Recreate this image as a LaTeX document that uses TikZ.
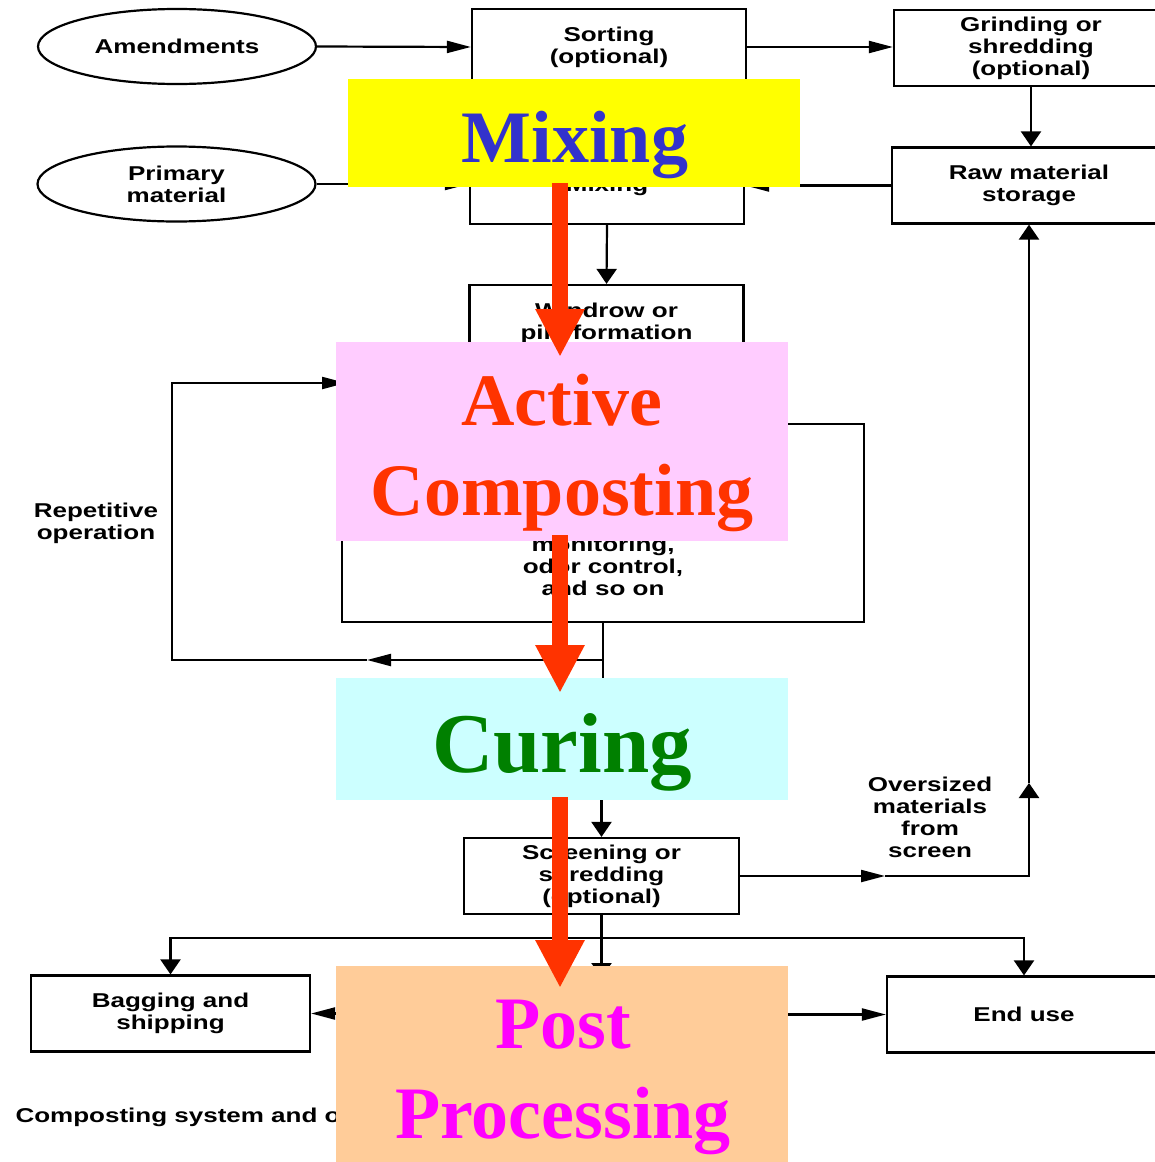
\documentclass[tikz,border=0pt]{standalone}
\usepackage{fontspec}
\usetikzlibrary{shapes.geometric,arrows.meta}
\newfontfamily\scanfont[FakeStretch=1.3]{Liberation Sans}
\newfontfamily\stagefont{Liberation Serif}
\definecolor{mixyellow}{HTML}{FFFF00}
\definecolor{mixblue}{HTML}{3333CC}
\definecolor{actpink}{HTML}{FFCCFF}
\definecolor{actred}{HTML}{FF3300}
\definecolor{curecyan}{HTML}{CCFFFF}
\definecolor{curegreen}{HTML}{008000}
\definecolor{postpeach}{HTML}{FFCC99}
\definecolor{postmagenta}{HTML}{FF00FF}
\begin{document}
\begin{tikzpicture}[x=1pt, y=-1pt,
    scantext/.style={font=\scanfont\bfseries\fontsize{20}{22}\selectfont, align=center},
    procbox/.style={draw, line width=2.2pt, minimum width=274pt, minimum height=76pt, inner sep=0pt, scantext},
    srcell/.style={draw, ellipse, line width=2.2pt, minimum width=278pt, minimum height=75pt, inner sep=0pt, scantext},
    flow/.style={line width=2.2pt},
    harr/.style={flow, -{Triangle[length=24pt, width=12pt]}},
    varr/.style={flow, -{Triangle[length=15pt, width=20pt]}},
    stage/.style={minimum width=452pt, inner sep=0pt},
    stagetext/.style={font=\stagefont\bfseries\fontsize{74}{90}\selectfont, anchor=base, inner sep=0pt},
    bigarrow/.style={actred, line width=16pt, -{Triangle[length=48pt, width=46pt]}}]
    \useasboundingbox (0,0) rectangle (1154,1162);

    % Inputs and raw material handling
    \node[srcell] (amend) at (177,46.5) {Amendments};
    \node[srcell] (primary) at (176.5,184) {Primary\\material};
    \node[procbox] (sorting) at (609,47) {Sorting\\(optional)};
    \node[procbox] (grind) at (1031,48) {Grinding or\\shredding\\(optional)};
    \node[procbox] (raw) at (1029,185.5) {Raw material\\storage};
    \node[procbox] (mixbox) at (607,186) {Mixing};
    \node[procbox] (windrow) at (606.5,323) {Windrow or\\pile formation};

    \draw[harr] (amend.east) -- (sorting.west);
    \draw[harr] (sorting.east) -- (sorting.east -| grind.west);
    \draw[varr] (grind.south) -- (grind.south |- raw.north);
    \draw[harr] (raw.west) -- (raw.west -| mixbox.east);
    \draw[harr] (primary.east) -- (primary.east -| mixbox.west);
    \draw[varr] (mixbox.south) -- (windrow.north);

    % Composting with repetitive operation
    \node[draw, line width=2.2pt, minimum width=522pt, minimum height=198pt] (compbox) at (603,523) {};
    \node[scantext] (comptext) at (603,566) {monitoring,\\odor control,\\and so on};
    \coordinate (lpsplit) at (603,660);
    \coordinate (lpmid) at (367,660);
    \coordinate (lptl) at (172,383);
    \coordinate (lpin) at (346,383);
    \coordinate (curein) at (603,700);
    \draw[flow] (compbox.south) -- (curein);
    \draw[harr] (lpsplit) -- (lpmid);
    \draw[harr] (lpmid) -| (lptl) -- (lpin);
    \node[scantext] (repet) at (96,523) {Repetitive\\operation};

    % Screening and products
    \coordinate (cureout) at (601.5,780);
    \node[procbox, minimum width=275pt] (screen) at (601.5,876) {Screening or\\shredding\\(optional)};
    \draw[varr] (cureout) -- (screen.north);
    \coordinate (ovA) at (885,876);
    \coordinate (ovB) at (1029,783);
    \draw[harr] (screen.east) -- (ovA);
    \draw[varr] (ovA) -| (ovB);
    \draw[varr] (ovB) -- (raw.south);
    \node[scantext] (oversize) at (930,817.5) {Oversized\\materials\\from\\screen};

    \node[procbox, minimum width=279pt] (bag) at (170.5,1013.5) {Bagging and\\shipping};
    \node[procbox] (enduse) at (1024,1014.5) {End use};
    \coordinate (split) at (601.5,938);
    \coordinate (ppin) at (601.5,978);
    \coordinate (ppleft) at (420,1013.5);
    \coordinate (ppright) at (700,1014.5);
    \draw[varr] (screen.south) -- (ppin);
    \draw[varr] (split) -| (bag.north);
    \draw[varr] (split) -| (enduse.north);
    \draw[harr] (ppleft) -- (bag.east);
    \draw[harr] (ppright) -- (enduse.west);

    \node[scantext, anchor=base west] (caption) at (12,1122) {Composting system and o};

    % Stage overlays
    \node[stage, fill=mixyellow, minimum height=108pt] (mixstage) at (574,133) {};
    \node[stagetext, mixblue] (mixlbl) at (575,162) {Mixing};
    \node[stage, fill=actpink, minimum height=199pt] (actstage) at (562,441.5) {};
    \node[stagetext, actred] (actlbl) at (562,425) {Active};
    \node[stagetext, actred] (complbl) at (562,515) {Composting};
    \node[stage, fill=curecyan, minimum height=122pt] (curestage) at (562,739) {};
    \node[stagetext, curegreen, font=\stagefont\bfseries\fontsize{85}{90}\selectfont] (curelbl) at (562,772) {Curing};
    \node[stage, fill=postpeach, minimum height=196pt] (poststage) at (562,1064) {};
    \node[stagetext, postmagenta] (postlbl) at (563,1048) {Post};
    \node[stagetext, postmagenta] (proclbl) at (563,1138) {Processing};

    % Red stage arrows
    \coordinate (ra1s) at (560,183);
    \coordinate (ra1e) at (560,357);
    \coordinate (ra2s) at (560,535);
    \coordinate (ra2e) at (560,693);
    \coordinate (ra3s) at (560,797);
    \coordinate (ra3e) at (560,988);
    \draw[bigarrow] (ra1s) -- (ra1e);
    \draw[bigarrow] (ra2s) -- (ra2e);
    \draw[bigarrow] (ra3s) -- (ra3e);
\end{tikzpicture}
\end{document}
